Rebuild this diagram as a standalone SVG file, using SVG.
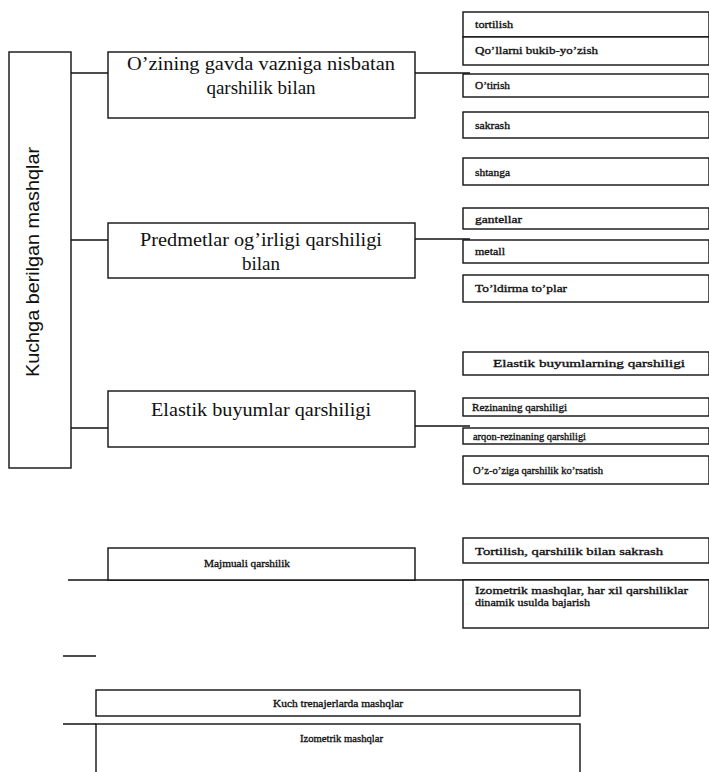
<svg xmlns="http://www.w3.org/2000/svg" width="709" height="772" viewBox="0 0 709 772">
<style>
.box{fill:#fff;stroke:#111;stroke-width:1.4}
.ln{stroke:#111;stroke-width:1.4;fill:none}
.big{font-family:"Liberation Serif",serif;font-size:19px;fill:#111;text-anchor:middle}
.sm{font-family:"Liberation Serif",serif;font-size:11px;fill:#111;stroke:#111;stroke-width:0.35}
.smc{font-family:"Liberation Serif",serif;font-size:11px;fill:#111;stroke:#111;stroke-width:0.35;text-anchor:middle}
.side{font-family:"Liberation Sans",sans-serif;font-size:18px;fill:#111;text-anchor:middle}
</style>
<rect width="709" height="772" fill="#fff"/>
<g id="connectors">
<line class="ln" x1="71" y1="73" x2="108" y2="73"/>
<line class="ln" x1="71" y1="240" x2="108" y2="240"/>
<line class="ln" x1="71" y1="428" x2="108" y2="428"/>
<line class="ln" x1="415" y1="73" x2="470" y2="73"/>
<line class="ln" x1="415" y1="239" x2="470" y2="239"/>
<line class="ln" x1="415" y1="426" x2="470" y2="426"/>
<line class="ln" x1="68" y1="580" x2="709" y2="580"/>
<line class="ln" x1="63" y1="656" x2="96" y2="656"/>
<line class="ln" x1="63" y1="724" x2="96" y2="724"/>
</g>
<g id="root">
<rect class="box" x="9" y="52" width="62" height="416"/>
<text class="side" transform="translate(39,262) rotate(-90)" textLength="230" lengthAdjust="spacingAndGlyphs">Kuchga  berilgan mashqlar</text>
</g>
<g id="n1">
<rect class="box" x="108" y="52" width="307" height="66"/>
<text class="big" x="261" y="70" textLength="268" lengthAdjust="spacingAndGlyphs">O’zining gavda vazniga nisbatan</text>
<text class="big" x="261" y="94">qarshilik bilan</text>
</g>
<g id="n2">
<rect class="box" x="108" y="223" width="307" height="55"/>
<text class="big" x="261" y="246" textLength="242" lengthAdjust="spacingAndGlyphs">Predmetlar og’irligi qarshiligi</text>
<text class="big" x="261" y="270">bilan</text>
</g>
<g id="n3">
<rect class="box" x="108" y="391" width="307" height="56"/>
<text class="big" x="261" y="416" textLength="220" lengthAdjust="spacingAndGlyphs">Elastik buyumlar qarshiligi</text>
</g>
<g id="n4">
<rect class="box" x="108" y="548" width="307" height="32"/>
<text class="sm" x="204" y="567" textLength="86" lengthAdjust="spacingAndGlyphs">Majmuali qarshilik</text>
</g>
<g id="r1"><rect class="box" x="463" y="12" width="246" height="25"/><text class="sm" x="475" y="28" textLength="38" lengthAdjust="spacingAndGlyphs">tortilish</text></g>
<g id="r2"><rect class="box" x="463" y="37" width="246" height="28"/><text class="sm" x="475" y="54" textLength="123" lengthAdjust="spacingAndGlyphs">Qo’llarni bukib-yo’zish</text></g>
<g id="r3"><rect class="box" x="463" y="74" width="246" height="23"/><text class="sm" x="475" y="89" textLength="35" lengthAdjust="spacingAndGlyphs">O’tirish</text></g>
<g id="r4"><rect class="box" x="463" y="112" width="246" height="26"/><text class="sm" x="475" y="129" textLength="35" lengthAdjust="spacingAndGlyphs">sakrash</text></g>
<g id="r5"><rect class="box" x="463" y="158" width="246" height="27"/><text class="sm" x="475" y="176" textLength="35" lengthAdjust="spacingAndGlyphs">shtanga</text></g>
<g id="r6"><rect class="box" x="463" y="208" width="246" height="21"/><text class="sm" x="475" y="223" textLength="47" lengthAdjust="spacingAndGlyphs">gantellar</text></g>
<g id="r7"><rect class="box" x="463" y="240" width="246" height="23"/><text class="sm" x="475" y="255" textLength="30" lengthAdjust="spacingAndGlyphs">metall</text></g>
<g id="r8"><rect class="box" x="463" y="275" width="246" height="27"/><text class="sm" x="475" y="292" textLength="92" lengthAdjust="spacingAndGlyphs">To’ldirma to’plar</text></g>
<g id="r9"><rect class="box" x="463" y="352" width="246" height="23"/><text class="sm" x="493" y="367" textLength="192" lengthAdjust="spacingAndGlyphs">Elastik buyumlarning  qarshiligi</text></g>
<g id="r10"><rect class="box" x="463" y="398" width="246" height="18"/><text class="sm" x="472" y="411" textLength="95" lengthAdjust="spacingAndGlyphs">Rezinaning qarshiligi</text></g>
<g id="r11"><rect class="box" x="463" y="428" width="246" height="16"/><text class="sm" x="473" y="440" textLength="113" lengthAdjust="spacingAndGlyphs">arqon-rezinaning qarshiligi</text></g>
<g id="r12"><rect class="box" x="463" y="456" width="246" height="28"/><text class="sm" x="473" y="474" textLength="130" lengthAdjust="spacingAndGlyphs">O’z-o’ziga qarshilik ko’rsatish</text></g>
<g id="r13"><rect class="box" x="463" y="538" width="246" height="25"/><text class="sm" x="475" y="555" textLength="188" lengthAdjust="spacingAndGlyphs">Tortilish, qarshilik bilan sakrash</text></g>
<g id="r14"><rect class="box" x="463" y="580" width="246" height="48"/><text class="sm" x="475" y="594" textLength="213" lengthAdjust="spacingAndGlyphs">Izometrik mashqlar, har xil qarshiliklar</text><text class="sm" x="475" y="606" textLength="115" lengthAdjust="spacingAndGlyphs">dinamik usulda bajarish</text></g>
<g id="b1"><rect class="box" x="96" y="690" width="484" height="26"/><text class="sm" x="273" y="707" textLength="130" lengthAdjust="spacingAndGlyphs">Kuch trenajerlarda mashqlar</text></g>
<g id="b2"><rect class="box" x="96" y="724" width="484" height="52"/><text class="sm" x="300" y="742" textLength="83" lengthAdjust="spacingAndGlyphs">Izometrik mashqlar</text></g>
</svg>
